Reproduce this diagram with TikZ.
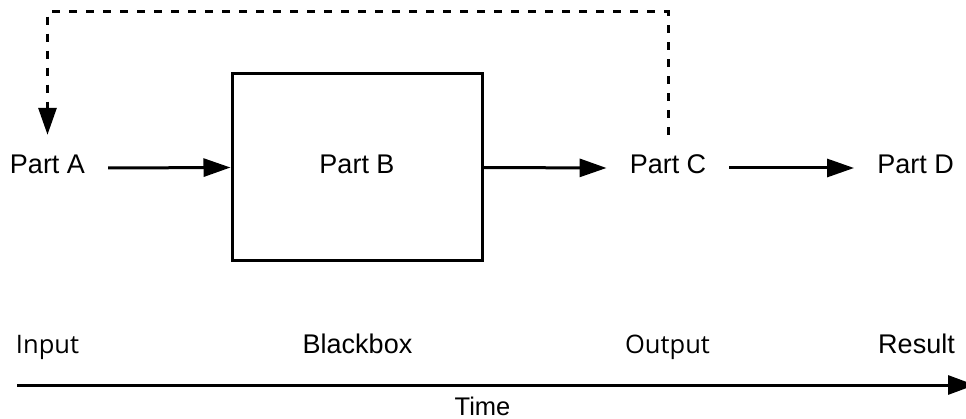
\documentclass[tikz,border=0pt]{standalone}
\usepackage{fontspec}
\setmainfont{Liberation Sans}
\newfontfamily\labelfont{Open Sans}
\usetikzlibrary{arrows.meta}

\begin{document}
\begin{tikzpicture}[x=1pt,y=-1pt,
  part/.style={inner xsep=23pt, inner ysep=20pt, text height=19pt, text depth=7pt,
    font=\fontsize{27pt}{32pt}\selectfont},
  blackbox/.style={draw, line width=3pt, minimum width=250pt, minimum height=187pt,
    font=\fontsize{27pt}{32pt}\selectfont},
  flow/.style={line width=3pt, -{Triangle[length=27pt,width=18pt]}},
  feedback/.style={line width=3pt, dash pattern=on 8pt off 9pt,
    -{Triangle[length=27pt,width=18pt]}},
  stage/.style={anchor=base, inner sep=0pt, font=\fontsize{27pt}{32pt}\selectfont},
  stagealt/.style={anchor=base, inner sep=0pt, font=\labelfont\fontsize{25.5pt}{30pt}\selectfont},
]
\useasboundingbox (0,0) rectangle (966,419);

% main chain
\node[part] (a) at (47.5,168) {Part A};
\node[blackbox] (b) at (357,167.5) {};
\node[anchor=base, inner sep=0pt, font=\fontsize{27pt}{32pt}\selectfont] (blabel) at (357,174) {Part B};
\node[part] (c) at (668,168) {Part C};
\node[part] (d) at (915.5,168) {Part D};

\draw[flow] (a.east) -- (b.west);
\draw[flow] (b.east) -- (c.west);
\draw[flow] (c.east) -- (d.west);

% feedback loop from C back to A
\coordinate (top) at (357,12);
\draw[feedback] (c.north) |- (top) -| (a.north);

% stage labels
\node[stagealt] (in) at (47.5,353) {Input};
\node[stage] (bb) at (357.5,354) {Blackbox};
\node[stagealt] (out) at (667.5,353) {Output};
\node[stage] (res) at (916.5,354) {Result};

% time axis
\coordinate (t0) at (17,385);
\coordinate (t1) at (975,385);
\draw[line width=3pt, -{Triangle[length=27pt,width=19pt]}] (t0) -- (t1);
\node[anchor=base, inner sep=0pt, font=\fontsize{25.5pt}{30pt}\selectfont] (time) at (482.5,415) {Time};
\end{tikzpicture}
\end{document}
